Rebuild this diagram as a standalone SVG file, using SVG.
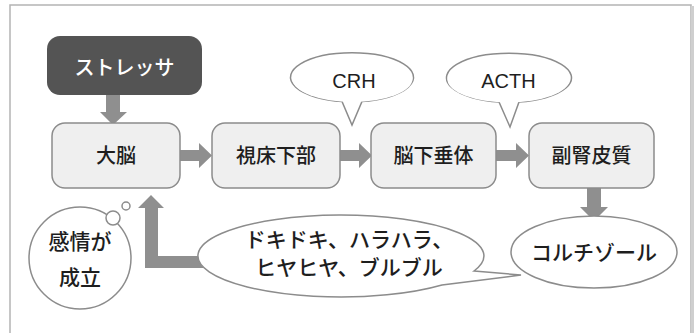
<svg xmlns="http://www.w3.org/2000/svg" width="699" height="333" viewBox="0 0 699 333">
<style>
.box{fill:#efefef;stroke:#8c8c8c;stroke-width:1.5}
.t{font-family:"Noto Sans CJK JP","Liberation Sans",sans-serif;font-weight:500;fill:#1e1e1e;text-anchor:middle}
.e{font-family:"Liberation Sans","Noto Sans CJK JP",sans-serif;fill:#1e1e1e;text-anchor:middle}
.arr{fill:#8f8f8f}
.bub{fill:#fff;stroke:#8c8c8c;stroke-width:1.5}
</style>
<rect width="699" height="333" fill="#fff"/>
<path d="M10 340 V5 H691 V340" fill="none" stroke="#b4b4b4" stroke-width="1.5"/>
<line x1="692.5" y1="6" x2="692.5" y2="333" stroke="#cfcfcf" stroke-width="3"/>
<g id="connectors">
<path class="arr" d="M106 95 H120 V112 H127 L113 125 L100 112 H106 Z"/>
<path class="arr" d="M180 150 H199 V143 L212 155.5 L199 168 V161 H180 Z"/>
<path class="arr" d="M340 150 H359 V143 L372 155.5 L359 168 V161 H340 Z"/>
<path class="arr" d="M496 150 H516 V143 L529 155.5 L516 168 V161 H496 Z"/>
<path class="arr" d="M587 188 H601 V207 H608 L594 221 L580 207 H587 Z"/>
<path class="arr" d="M210 256 H158 V208 H164 L151 195 L138 208 H145 V268 H212 Z"/>
</g>
<g id="stressor">
<rect x="47" y="36" width="155" height="59" rx="13" fill="#545454"/>
<text class="t" x="124.5" y="75" font-size="20" style="fill:#fff">ストレッサ</text>
</g>
<g id="brain">
<rect class="box" x="52" y="123" width="128" height="65" rx="13"/>
<text class="t" x="116" y="163" font-size="20">大脳</text>
</g>
<g id="hypothalamus">
<rect class="box" x="212" y="123" width="128" height="65" rx="13"/>
<text class="t" x="276" y="163" font-size="20">視床下部</text>
</g>
<g id="pituitary">
<rect class="box" x="371" y="123" width="125" height="65" rx="13"/>
<text class="t" x="433.5" y="163" font-size="20">脳下垂体</text>
</g>
<g id="adrenal">
<rect class="box" x="529" y="123" width="125" height="65" rx="13"/>
<text class="t" x="591.5" y="163" font-size="20">副腎皮質</text>
</g>
<g id="crh">
<path class="bub" d="M342 101.5 A61.5 24.5 0 1 1 362 101.5 L352 125 Z"/>
<ellipse cx="352.5" cy="79" rx="60" ry="23" fill="#fff"/>
<text class="e" x="354" y="88" font-size="20">CRH</text>
</g>
<g id="acth">
<path class="bub" d="M499 102 A62.5 24.5 0 1 1 519 102 L510 127 Z"/>
<ellipse cx="508.5" cy="79.5" rx="61" ry="23" fill="#fff"/>
<text class="e" x="508.5" y="88" font-size="20">ACTH</text>
</g>
<g id="cortisol">
<ellipse class="bub" cx="594" cy="252" rx="83" ry="36"/>
<text class="t" x="594" y="260" font-size="21">コルチゾール</text>
</g>
<g id="feelings">
<path class="bub" d="M474 271 L521 275 L442 285 A143 41 0 1 1 474 271 Z"/>
<text class="t" x="349" y="247" font-size="21">ドキドキ、ハラハラ、</text>
<text class="t" x="349" y="275" font-size="21">ヒヤヒヤ、ブルブル</text>
</g>
<g id="emotion">
<circle class="bub" cx="80" cy="258" r="51"/>
<circle class="bub" cx="113" cy="218" r="7"/>
<circle class="bub" cx="126" cy="206" r="4"/>
<text class="t" x="80" y="249" font-size="21">感情が</text>
<text class="t" x="80" y="285" font-size="21">成立</text>
</g>
</svg>
